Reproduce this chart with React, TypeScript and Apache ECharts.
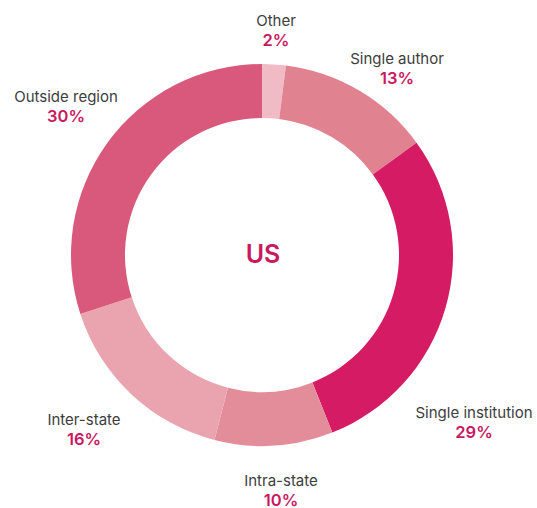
import React, { useEffect, useRef } from "react";
import * as echarts from "echarts";

const categories = ["Other", "Single author", "Single institution", "Intra-state", "Inter-state", "Outside region"];
const shares = [2, 13, 29, 10, 16, 30];
const sliceColors = ["#f0bbc4", "#e0828f", "#d41b64", "#e48d9a", "#eaa4af", "#d8597b"];
const centerLabel = "US";

// label anchor points (centre of each two-line label), in pixels
const labelAnchors: [number, number][] = [
  [276, 30],
  [397, 68],
  [474, 422],
  [281, 490],
  [84, 429],
  [66, 106],
];

export default function App() {
  const ref = useRef<HTMLDivElement>(null);
  useEffect(() => {
    document.body.style.margin = "0";
    const chart = echarts.init(ref.current!, null, { renderer: "svg" });
    chart.setOption({
      animation: false,
      backgroundColor: "#ffffff",
      textStyle: { fontFamily: "Inter, 'Noto Sans', sans-serif" },
      graphic: [
        {
          type: "text",
          x: 263,
          y: 254,
          style: {
            text: centerLabel,
            fill: "#c8185f",
            font: "600 25px Inter, 'Noto Sans', sans-serif",
            textAlign: "center",
            textVerticalAlign: "middle",
          },
        },
      ],
      series: [
        {
          type: "pie",
          center: [262, 255],
          radius: [137, 191],
          startAngle: 90,
          clockwise: true,
          silent: true,
          data: categories.map((c, i) => ({
            name: c,
            value: shares[i],
            itemStyle: { color: sliceColors[i] },
          })),
          label: {
            show: true,
            position: "outside",
            overflow: "none",
            formatter: (p: any) => `{n|${p.name}}\n{p|${p.value}%}`,
            rich: {
              n: { fontSize: 15, color: "#3d3d3d", lineHeight: 19, fontFamily: "Inter, 'Noto Sans', sans-serif", align: "center" },
              p: { fontSize: 16.5, fontWeight: 600, color: "#c8185f", lineHeight: 19, fontFamily: "Inter, 'Noto Sans', sans-serif", align: "center" },
            },
          },
          labelLine: { show: false },
          labelLayout: (params: any) => {
            const a = labelAnchors[params.dataIndex];
            return { x: a[0], y: a[1], align: "center", verticalAlign: "middle" };
          },
        },
      ],
    });
    return () => chart.dispose();
  }, []);
  return <div ref={ref} style={{ width: 537, height: 508 }} />;
}
